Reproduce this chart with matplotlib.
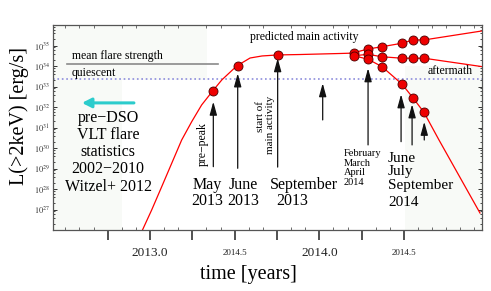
import matplotlib.pyplot as plt
import numpy as np
from matplotlib.patches import Rectangle
from matplotlib.ticker import MultipleLocator, LogLocator, NullFormatter

plt.rcParams['font.family'] = ['Liberation Serif', 'DejaVu Serif']
plt.rcParams['mathtext.fontset'] = 'stix'

# model light curve, log10 L(>2keV) against time
rise_t = [2012.951, 2013.010, 2013.069, 2013.128, 2013.187, 2013.246, 2013.305, 2013.370,
          2013.424, 2013.512, 2013.591, 2013.662, 2013.756, 2013.886, 2014.122, 2014.205]
rise_logL = [25.92, 26.98, 28.11, 29.25, 30.39, 31.28, 32.10, 32.78,
             33.32, 34.00, 34.39, 34.49, 34.54, 34.56, 34.61, 34.63]

# three scenarios after the peak
branch_t = [2014.205, 2014.288, 2014.370, 2014.488, 2014.553, 2014.618, 2014.961]
upper_logL = [34.65, 34.83, 34.94, 35.11, 35.27, 35.27, 35.71]
mid_logL = [34.50, 34.57, 34.45, 34.38, 34.38, 34.38, 33.97]
lower_t = [2014.205, 2014.288, 2014.370, 2014.488, 2014.553, 2014.618, 2014.707, 2014.949]
lower_logL = [34.50, 34.33, 33.97, 33.12, 32.45, 31.74, 30.39, 26.83]

# observing epochs on the rise
obs_t = [2013.370, 2013.521, 2013.756]
obs_logL = [32.78, 34.00, 34.54]

# arrows marking the epochs
arrow_t = [2013.374, 2013.518, 2013.754, 2014.020, 2014.288, 2014.483, 2014.548, 2014.620]
arrow_tip = [32.26, 33.64, 34.38, 33.16, 33.89, 32.62, 32.13, 31.28]
arrow_tail = [29.09, 29.01, 29.07, 31.37, 30.15, 30.31, 30.15, 30.39]

mean_flare_logL = 34.08
quiescent_logL = 33.35

xticks = [2012.75, 2013.0, 2013.25, 2013.5, 2013.75, 2014.0, 2014.25, 2014.5]
xticklabels = ['', '2013.0', '', '2014.5', '', '2014.0', '', '2014.5']
xticksizes = [6, 9.5, 6, 6.5, 6, 9.5, 6, 6.5]
yexp = list(range(27, 36))

fig = plt.figure(figsize=(4.91, 2.91), dpi=100)
ax = fig.add_axes([53/491, 61/291, 429/491, 205/291])
ax.set_yscale('log')
ax.set_xlim(2012.427, 2014.961)
ax.set_ylim(1e26, 1e36)

# faint shaded panels from the original composite
for (x0, y0, w, h) in [(0, 0, 0.161, 1), (0.161, 0.73, 0.198, 0.27), (0.82, 0, 0.18, 0.8)]:
    ax.add_patch(Rectangle((x0, y0), w, h, transform=ax.transAxes,
                           color='#f8faf7', lw=0, zorder=0))

red = '#ff0000'
ax.plot(rise_t, 10**np.array(rise_logL), color=red, lw=0.9, zorder=2)
ax.plot(branch_t, 10**np.array(upper_logL), color=red, lw=0.9, zorder=2)
ax.plot(branch_t, 10**np.array(mid_logL), color=red, lw=0.9, zorder=2)
ax.plot(lower_t, 10**np.array(lower_logL), color=red, lw=0.9, zorder=2)

dot = dict(ls='none', marker='o', ms=6.5, mfc='#ee0000', mec='#4a0000', mew=0.6, zorder=4)
ax.plot(obs_t, 10**np.array(obs_logL), **dot)
ax.plot(branch_t[:-1], 10**np.array(upper_logL[:-1]), **dot)
ax.plot(branch_t[:-1], 10**np.array(mid_logL[:-1]), **dot)
ax.plot(lower_t[1:6], 10**np.array(lower_logL[1:6]), **dot)

for t, tip, tail in zip(arrow_t, arrow_tip, arrow_tail):
    ax.annotate('', xy=(t, 10**tip), xytext=(t, 10**tail),
                arrowprops=dict(arrowstyle='-|>,head_length=0.8,head_width=0.22',
                                color='#111111', lw=0.9, shrinkA=0, shrinkB=0), zorder=3)

# reference levels
ax.plot([2012.510, 2013.402], [10**mean_flare_logL]*2, color='#8a8a8a', lw=1.2)
ax.axhline(10**quiescent_logL, color='#8c8cdc', ls=':', lw=1.2, zorder=1)
ax.text(2012.539, 10**34.49, 'mean flare strength', fontsize=8.5, va='center')
ax.text(2012.539, 10**33.66, 'quiescent', fontsize=8.5, va='center')

# cyan arrow to the left
ax.annotate('', xy=(2012.598, 10**32.2), xytext=(2012.905, 10**32.2),
            arrowprops=dict(arrowstyle='-|>,head_length=0.55,head_width=0.28',
                            color='#2ccccc', lw=2.2, shrinkA=0, shrinkB=0))


def stack(x, y, lines, size, offsets, ha='center'):
    # lines placed under each other, offsets in points from the first baseline
    for s, off in zip(lines, offsets):
        ax.annotate(s, (x, 10**y), xytext=(0, -off), textcoords='offset points',
                    fontsize=size, ha=ha, va='baseline')


stack(2012.752, 31.28, ['pre−DSO', 'VLT flare', 'statistics', '2002−2010', 'Witzel+ 2012'],
      11.5, [0, 12.4, 24.8, 37.2, 49.6])
stack(2013.337, 28.0, ['May', '2013'], 11.5, [0, 11.5])
stack(2013.552, 28.0, ['June', '2013'], 11.5, [0, 11.5])
stack(2013.910, 28.0, ['September'], 11.5, [0])
stack(2013.839, 28.0, ['2013'], 11.5, [11.5])
stack(2014.146, 29.59, ['February', 'March', 'April', '2014'], 7.5, [0, 6.8, 13.6, 20.4], ha='left')
stack(2014.406, 29.33, ['June', 'July', 'September', '2014'], 11, [0, 9.8, 19.6, 32.0], ha='left')

ax.text(2013.310, 10**30.20, 'pre−peak', fontsize=8.5, rotation=90, ha='center', va='center')
ax.text(2013.653, 10**31.56, 'start of', fontsize=8, rotation=90, ha='center', va='center')
ax.text(2013.710, 10**31.12, 'main activity', fontsize=8, rotation=90, ha='center', va='center')
ax.text(2013.913, 10**35.41, 'predicted main activity', fontsize=8.5, ha='center', va='center')
ax.text(2014.775, 10**33.76, 'aftermath', fontsize=8.5, ha='center', va='center')

# axes and ticks
ax.set_xticks(xticks)
ax.set_xticklabels(xticklabels)
for lbl, fs in zip(ax.get_xticklabels(), xticksizes):
    lbl.set_fontsize(fs)
    lbl.set_va('center')
ax.xaxis.set_minor_locator(MultipleLocator(1/12))
ax.tick_params(axis='x', which='major', direction='out', length=7, width=1.1,
               pad=9.5, colors='#222222')
ax.tick_params(axis='x', which='minor', direction='in', length=2.5, width=0.6,
               top=True, colors='#555555')

ax.set_yticks([10.0**k for k in yexp])
ax.set_yticklabels([r'$10^{%d}$' % k for k in yexp])
ax.yaxis.set_minor_locator(LogLocator(base=10, subs=(2, 4, 6, 8), numticks=20))
ax.yaxis.set_minor_formatter(NullFormatter())
ax.tick_params(axis='y', which='major', direction='in', length=3, width=0.7,
               right=True, pad=2, labelsize=6, colors='#333333')
ax.tick_params(axis='y', which='minor', direction='in', length=1.5, width=0.5, right=True)

for sp in ax.spines.values():
    sp.set_color('#555555')
    sp.set_linewidth(0.9)

ax.set_ylabel('L(>2keV) [erg/s]', fontsize=14.5)
ax.yaxis.set_label_coords(-0.056, 0.556)
ax.set_xlabel('time [years]', fontsize=14.5, va='center')
ax.xaxis.set_label_coords(0.455, -0.215)

fig.savefig('out.png', dpi=100)
